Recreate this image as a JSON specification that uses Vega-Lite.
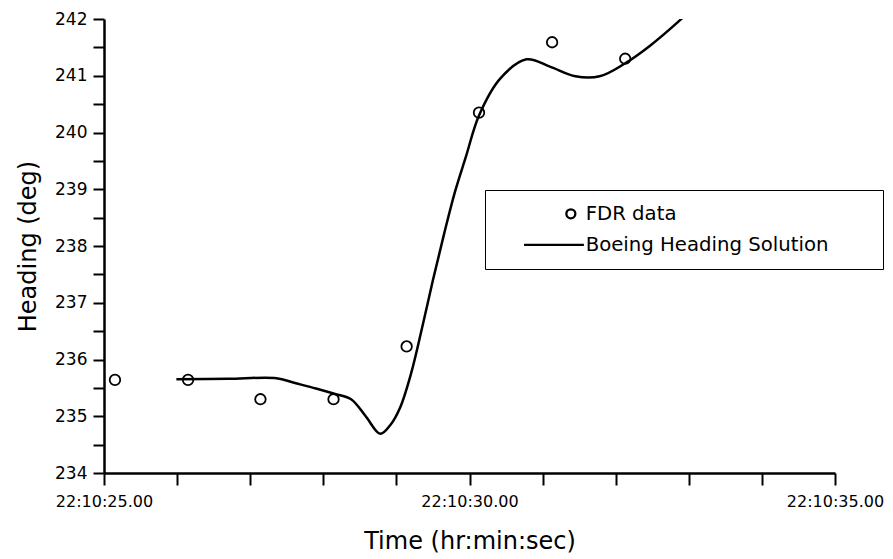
{
  "$schema": "https://vega.github.io/schema/vega-lite/v6.json",
  "width": 731,
  "height": 454,
  "autosize": {"type": "none"},
  "padding": {"left": 104, "top": 19, "right": 58, "bottom": 86},
  "background": "white",
  "config": {
    "view": {"stroke": null},
    "font": "DejaVu Sans",
    "axis": {
      "domainColor": "black", "domainWidth": 2.5, "tickColor": "black", "tickWidth": 2,
      "labelColor": "black", "titleColor": "black", "grid": false, "labelFlush": false,
      "titleFont": "DejaVu Sans", "labelFont": "DejaVu Sans", "titleFontWeight": "normal", "titleFontSize": 24
    }
  },
  "datasets": {
    "fdr": [
      {"time": 25.15, "heading": 235.64, "series": "FDR data"},
      {"time": 26.15, "heading": 235.64, "series": "FDR data"},
      {"time": 27.14, "heading": 235.30, "series": "FDR data"},
      {"time": 28.14, "heading": 235.30, "series": "FDR data"},
      {"time": 29.14, "heading": 236.23, "series": "FDR data"},
      {"time": 30.13, "heading": 240.35, "series": "FDR data"},
      {"time": 31.13, "heading": 241.59, "series": "FDR data"},
      {"time": 32.13, "heading": 241.30, "series": "FDR data"}
    ],
    "solution": [
      {"time": 25.99, "heading": 235.65},
      {"time": 26.70, "heading": 235.66},
      {"time": 27.36, "heading": 235.67},
      {"time": 27.60, "heading": 235.59},
      {"time": 27.90, "heading": 235.49},
      {"time": 28.14, "heading": 235.40},
      {"time": 28.38, "heading": 235.30},
      {"time": 28.58, "heading": 235.00},
      {"time": 28.78, "heading": 234.69},
      {"time": 28.92, "heading": 234.85},
      {"time": 29.05, "heading": 235.15},
      {"time": 29.20, "heading": 235.75},
      {"time": 29.35, "heading": 236.55},
      {"time": 29.50, "heading": 237.40},
      {"time": 29.65, "heading": 238.20},
      {"time": 29.80, "heading": 238.95},
      {"time": 29.95, "heading": 239.57},
      {"time": 30.13, "heading": 240.30},
      {"time": 30.42, "heading": 240.95},
      {"time": 30.78, "heading": 241.29},
      {"time": 31.10, "heading": 241.16},
      {"time": 31.45, "heading": 240.99},
      {"time": 31.78, "heading": 240.99},
      {"time": 32.13, "heading": 241.22},
      {"time": 32.47, "heading": 241.53},
      {"time": 32.88, "heading": 241.98},
      {"time": 33.10, "heading": 242.25}
    ]
  },
  "encoding": {
    "x": {
      "field": "time", "type": "quantitative",
      "scale": {"domain": [25, 35], "nice": false, "zero": false},
      "axis": {
        "title": "Time (hr:min:sec)",
        "values": [25, 26, 27, 28, 29, 30, 31, 32, 33, 34, 35],
        "labelExpr": "datum.value % 5 === 0 ? '22:10:' + format(datum.value, '.2f') : ''",
        "tickSize": 12,
        "labelFontSize": 16, "labelPadding": 8, "titlePadding": 20,
        "encode": {"ticks": {"update": {"y2": {"signal": "datum.value % 5 === 0 ? 12 : 6"}}}}
      }
    },
    "y": {
      "field": "heading", "type": "quantitative",
      "scale": {"domain": [234, 242], "nice": false, "zero": false},
      "axis": {
        "title": "Heading (deg)",
        "values": [234, 234.5, 235, 235.5, 236, 236.5, 237, 237.5, 238, 238.5, 239, 239.5, 240, 240.5, 241, 241.5, 242],
        "labelExpr": "datum.value % 1 === 0 ? format(datum.value, 'd') : ''",
        "tickSize": 11,
        "labelFontSize": 17, "labelPadding": 6, "titlePadding": 14,
        "encode": {"ticks": {"update": {"x2": {"signal": "datum.value % 1 === 0 ? -11 : -6"}}}}
      }
    }
  },
  "layer": [
    {
      "data": {"name": "solution"},
      "mark": {"type": "line", "color": "black", "strokeWidth": 2.5, "interpolate": "catmull-rom", "clip": true},
      "encoding": {}
    },
    {
      "data": {"name": "fdr"},
      "mark": {"type": "point", "filled": false, "color": "black", "size": 110, "strokeWidth": 1.8, "opacity": 1},
      "encoding": {
        "shape": {
          "field": "series", "type": "nominal",
          "scale": {"domain": ["FDR data", "Boeing Heading Solution"], "range": ["circle", "M-10.4,0H2.9"]},
          "legend": {
            "title": " ", "titleOrient": "right", "titlePadding": 41, "titleFontSize": 1, "titleColor": "white",
            "orient": "none", "legendX": 381, "legendY": 171,
            "strokeColor": "black", "fillColor": "white",
            "padding": 14, "symbolSize": 81, "symbolStrokeWidth": 2.3, "symbolStrokeColor": "black",
            "symbolFillColor": "transparent", "symbolOffset": 62, "labelFontSize": 19.7, "labelFont": "DejaVu Sans",
            "labelColor": "black", "labelOffset": 5, "rowPadding": 10, "labelLimit": 500,
            "encode": {"legend": {"update": {"strokeWidth": {"value": 1.5}}}}
          }
        }
      }
    }
  ]
}
